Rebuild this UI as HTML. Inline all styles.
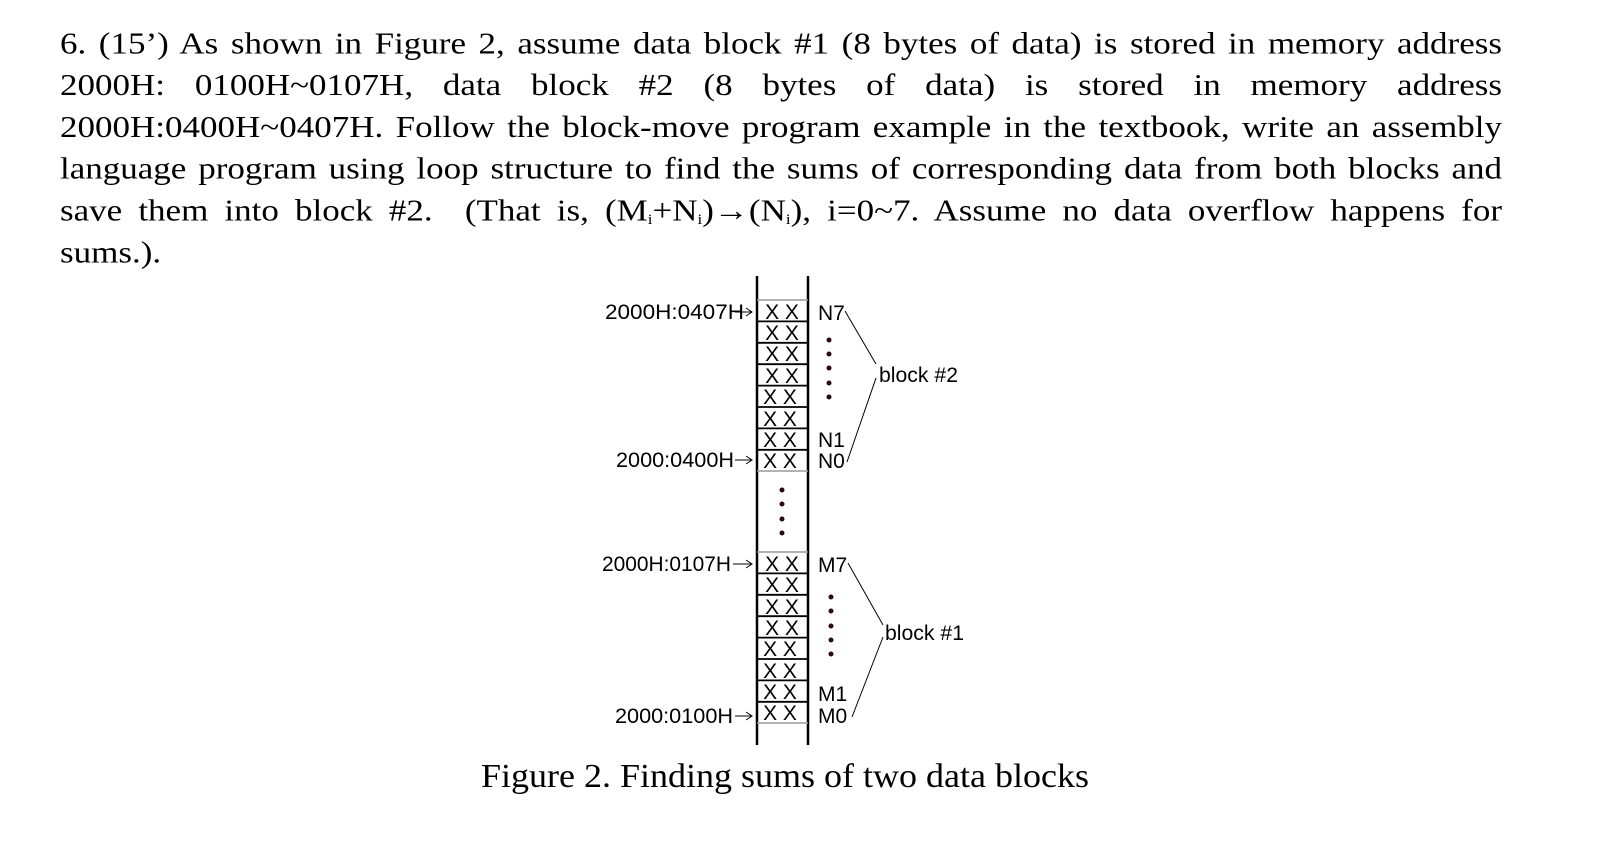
<!DOCTYPE html>
<html><head><meta charset="utf-8"><style>
html,body{margin:0;padding:0;background:#fff;}
body{width:1624px;height:846px;position:relative;overflow:hidden;}
.t{position:absolute;left:60px;top:23px;width:1442px;font-family:"Liberation Serif",serif;font-size:35px;line-height:48px;color:#000;transform:scale(1,0.87);transform-origin:0 0;}
.l{height:48px;text-align:justify;text-align-last:justify;overflow:hidden;}
.last{text-align-last:left}
sub{font-size:17px;vertical-align:-4px;line-height:0}
svg{position:absolute;left:0;top:0}
</style></head><body>
<div class="t">
<div class="l">6. (15’) As shown in Figure 2, assume data block #1 (8 bytes of data) is stored in memory address</div>
<div class="l">2000H: 0100H~0107H, data block #2 (8 bytes of data) is stored in memory address</div>
<div class="l">2000H:0400H~0407H. Follow the block-move program example in the textbook, write an assembly</div>
<div class="l">language program using loop structure to find the sums of corresponding data from both blocks and</div>
<div class="l">save them into block #2. &nbsp;(That is, (M<sub>i</sub>+N<sub>i</sub>)→(N<sub>i</sub>), i=0~7. Assume no data overflow happens for</div>
<div class="l last">sums.).</div>
</div>
<svg width="1624" height="846" font-family="Liberation Sans, sans-serif">
<line x1="757" y1="276" x2="757" y2="745" stroke="#000" stroke-width="2.5"/>
<line x1="808" y1="276" x2="808" y2="745" stroke="#000" stroke-width="2.5"/>
<g stroke="#000" stroke-width="1.8">
<line x1="757" y1="321.4" x2="808" y2="321.4"/><line x1="757" y1="342.8" x2="808" y2="342.8"/>
<line x1="757" y1="364.2" x2="808" y2="364.2"/><line x1="757" y1="385.6" x2="808" y2="385.6"/>
<line x1="757" y1="407" x2="808" y2="407"/><line x1="757" y1="428.4" x2="808" y2="428.4"/>
<line x1="757" y1="449.8" x2="808" y2="449.8"/>
<line x1="757" y1="573.4" x2="808" y2="573.4"/><line x1="757" y1="594.8" x2="808" y2="594.8"/>
<line x1="757" y1="616.2" x2="808" y2="616.2"/><line x1="757" y1="637.6" x2="808" y2="637.6"/>
<line x1="757" y1="659" x2="808" y2="659"/><line x1="757" y1="680.4" x2="808" y2="680.4"/>
<line x1="757" y1="701.8" x2="808" y2="701.8"/>
</g>
<g stroke="#999" stroke-width="1.5">
<line x1="757" y1="300" x2="808" y2="300"/><line x1="757" y1="471" x2="808" y2="471"/>
<line x1="757" y1="552" x2="808" y2="552"/><line x1="757" y1="723" x2="808" y2="723"/>
</g>
<g font-size="21" text-anchor="middle" fill="#000">
<text x="782" y="319">X X</text><text x="782" y="340">X X</text><text x="782" y="361">X X</text><text x="782" y="383">X X</text>
<text x="780" y="404">X X</text><text x="780" y="426">X X</text><text x="780" y="447">X X</text><text x="780" y="468">X X</text>
<text x="782" y="571">X X</text><text x="782" y="592">X X</text><text x="782" y="614">X X</text><text x="782" y="635">X X</text>
<text x="780" y="656">X X</text><text x="780" y="678">X X</text><text x="780" y="699">X X</text><text x="780" y="720">X X</text>
</g>
<g font-size="21" fill="#000">
<text x="605" y="319" textLength="139" lengthAdjust="spacingAndGlyphs">2000H:0407H</text>
<text x="616" y="467" textLength="118" lengthAdjust="spacingAndGlyphs">2000:0400H</text>
<text x="602" y="571" textLength="129" lengthAdjust="spacingAndGlyphs">2000H:0107H</text>
<text x="615" y="723" textLength="118" lengthAdjust="spacingAndGlyphs">2000:0100H</text>
<text x="818" y="320">N7</text><text x="818" y="447">N1</text><text x="818" y="468">N0</text>
<text x="818" y="572">M7</text><text x="818" y="701">M1</text><text x="818" y="723">M0</text>
<text x="879" y="382" textLength="79" lengthAdjust="spacingAndGlyphs">block #2</text>
<text x="885" y="640" textLength="79" lengthAdjust="spacingAndGlyphs">block #1</text>
</g>
<g stroke="#000" stroke-width="1" fill="none">
<path d="M735 312 H752 M746 308 L752 312 L746 316"/>
<path d="M735 460 H752 M746 456 L752 460 L746 464"/>
<path d="M733 564 H752 M746 560 L752 564 L746 568"/>
<path d="M735 716 H752 M746 712 L752 716 L746 720"/>
<path d="M845 311 L876 364 M847 462 L876 378"/>
<path d="M848 563 L883 625 M852 717 L883 637"/>
</g>
<g fill="#2a0a0a">
<circle cx="829" cy="340" r="2.5"/><circle cx="829" cy="354" r="2.5"/><circle cx="829" cy="368" r="2.5"/><circle cx="829" cy="383" r="2.5"/><circle cx="829" cy="397" r="2.5"/>
<circle cx="782" cy="490" r="2.5"/><circle cx="782" cy="504" r="2.5"/><circle cx="782" cy="519" r="2.5"/><circle cx="782" cy="533" r="2.5"/>
<circle cx="831" cy="597" r="2.5"/><circle cx="831" cy="611" r="2.5"/><circle cx="831" cy="626" r="2.5"/><circle cx="831" cy="640" r="2.5"/><circle cx="831" cy="654" r="2.5"/>
</g>
<text x="481" y="787" font-family="Liberation Serif, serif" font-size="34" fill="#000" textLength="608" lengthAdjust="spacingAndGlyphs">Figure 2. Finding sums of two data blocks</text>
</svg>
</body></html>
